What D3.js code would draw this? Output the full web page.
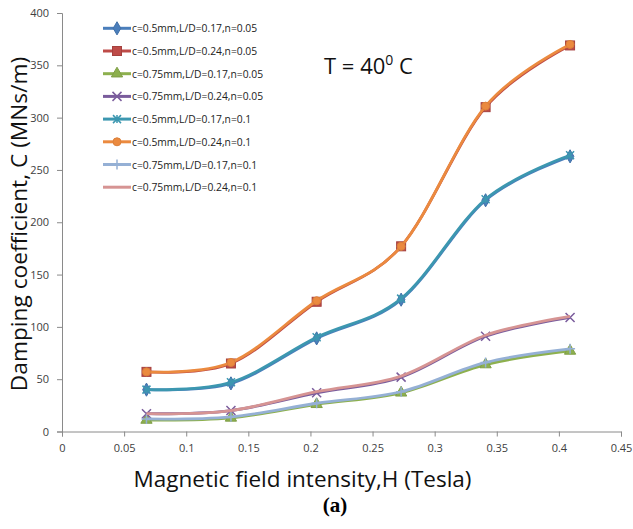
<!DOCTYPE html>
<html><head><meta charset="utf-8">
<script src="https://d3js.org/d3.v7.min.js"></script>
<style>body{margin:0;background:#fff;} text{font-family:"Open Sans","Liberation Sans",sans-serif;}</style>
</head><body><svg id="c" width="633" height="529"></svg>
<script>
const H = [0.068, 0.136, 0.205, 0.273, 0.341, 0.409];
const seriesNames = [
  "c=0.5mm,L/D=0.17,n=0.05","c=0.5mm,L/D=0.24,n=0.05","c=0.75mm,L/D=0.17,n=0.05","c=0.75mm,L/D=0.24,n=0.05",
  "c=0.5mm,L/D=0.17,n=0.1","c=0.5mm,L/D=0.24,n=0.1","c=0.75mm,L/D=0.17,n=0.1","c=0.75mm,L/D=0.24,n=0.1"];
const s1 = [40, 46, 89, 126, 221, 263];
const s2 = [57, 65, 124, 177, 310, 369];
const s3 = [11, 13, 26, 37, 64, 77];
const s4 = [17, 20, 37, 52, 91, 109];
const s5 = [40, 47, 90, 127, 222, 264];
const s6 = [57, 66, 125, 177, 311, 370];
const s7 = [12, 14, 27, 38, 66, 79];
const s8 = [17, 20, 38, 53, 92, 110];
const seriesValues = [s1,s2,s3,s4,s5,s6,s7,s8];
const colors = ["#4A7EBB","#BE4B48","#8DB04E","#7A5C9C","#3C97B0","#EB8A3F","#95B0D5","#D69493"];
const markers = ["diamond","square","triangle","x","asterisk","circle","plus","none"];
const xTicks = [0,0.05,0.1,0.15,0.2,0.25,0.3,0.35,0.4,0.45];
const yTicks = [0,50,100,150,200,250,300,350,400];

const svg = d3.select("#c");
svg.append("rect").attr("width",633).attr("height",529).attr("fill","#fff");
const x = d3.scaleLinear().domain([0,0.45]).range([62,621]);
const y = d3.scaleLinear().domain([0,400]).range([431.5,13]);

const xAxis = svg.append("g").attr("transform","translate(0,431.5)")
  .call(d3.axisBottom(x).tickValues(xTicks).tickFormat(d=>d).tickSizeOuter(0).tickSize(5).tickPadding(8));
const yAxis = svg.append("g").attr("transform","translate(62,0)")
  .call(d3.axisLeft(y).tickValues(yTicks).tickFormat(d=>d).tickSizeOuter(0).tickSize(5).tickPadding(8));
[xAxis,yAxis].forEach(a=>{
  a.select(".domain").attr("stroke","#8a8a8a");
  a.selectAll(".tick line").attr("stroke","#8a8a8a");
  a.selectAll(".tick text").attr("fill","#404040").style("font-size","11px").style("font-family","'Open Sans',sans-serif");
});

const line = d3.line().x((d,i)=>x(H[i])).y(d=>y(d)).curve(d3.curveCardinal.tension(0));

function drawMarker(g, type, cx, cy, color, scale){
  const k = scale||1;
  if(type==="diamond"){
    g.append("path").attr("d",d3.symbol(d3.symbolDiamond, 50*k)()).attr("transform",`translate(${cx},${cy})`).attr("fill",color).attr("stroke",d3.color(color).darker(0.3));
  } else if(type==="square"){
    g.append("rect").attr("x",cx-4.5*k).attr("y",cy-4.5*k).attr("width",9*k).attr("height",9*k).attr("fill",color).attr("stroke",d3.color(color).darker(0.4));
  } else if(type==="triangle"){
    g.append("path").attr("d",d3.symbol(d3.symbolTriangle, 55*k)()).attr("transform",`translate(${cx},${cy})`).attr("fill",color).attr("stroke",d3.color(color).darker(0.3));
  } else if(type==="x"){
    const r=4.5*k;
    g.append("path").attr("d",`M${cx-r},${cy-r}L${cx+r},${cy+r}M${cx-r},${cy+r}L${cx+r},${cy-r}`).attr("stroke",color).attr("stroke-width",1.5).attr("fill","none");
  } else if(type==="asterisk"){
    const r=4*k;
    g.append("path").attr("d",`M${cx-r},${cy-r}L${cx+r},${cy+r}M${cx-r},${cy+r}L${cx+r},${cy-r}M${cx},${cy-r}L${cx},${cy+r}`).attr("stroke",color).attr("stroke-width",1.5).attr("fill","none");
  } else if(type==="circle"){
    g.append("circle").attr("cx",cx).attr("cy",cy).attr("r",4*k).attr("fill",color).attr("stroke",d3.color(color).darker(0.2));
  } else if(type==="plus"){
    const r=5*k;
    g.append("path").attr("d",`M${cx-r},${cy}L${cx+r},${cy}M${cx},${cy-r}L${cx},${cy+r}`).attr("stroke",color).attr("stroke-width",1.5).attr("fill","none");
  }
}

const plot = svg.append("g");
seriesValues.forEach((vals,si)=>{
  const g = plot.append("g");
  g.append("path").attr("d",line(vals)).attr("fill","none").attr("stroke",colors[si]).attr("stroke-width",2.8).attr("stroke-linejoin","round");
  vals.forEach((v,i)=>drawMarker(g, markers[si], x(H[i]), y(v), colors[si]));
});

// legend
const leg = svg.append("g");
seriesNames.forEach((n,i)=>{
  const ly = 28.3 + i*22.7;
  leg.append("line").attr("x1",103).attr("x2",131).attr("y1",ly).attr("y2",ly).attr("stroke",colors[i]).attr("stroke-width",3);
  drawMarker(leg, markers[i], 117, ly, colors[i]);
  leg.append("text").attr("x",132).attr("y",ly+4).text(n).style("font-size","10.3px").attr("fill","#222");
});

// T label
const t = svg.append("text").attr("x",324).attr("y",73.5).style("font-size","22px").attr("fill","#111");
t.append("tspan").text("T = 40");
t.append("tspan").text("0").style("font-size","14px").attr("dy","-9");
t.append("tspan").text(" C").attr("dy","9");

// axis titles
svg.append("text").attr("x",302.5).attr("y",487).attr("text-anchor","middle").style("font-size","22.5px").attr("fill","#111")
  .text("Magnetic field intensity,H (Tesla)");
svg.append("text").attr("transform","translate(27,224) rotate(-90)").attr("text-anchor","middle").style("font-size","22.7px").attr("fill","#111")
  .text("Damping coefficient, C (MNs/m)");
svg.append("text").attr("x",335).attr("y",512).attr("text-anchor","middle").style("font-size","21px").style("font-weight","bold")
  .style("font-family","'Liberation Serif','Times New Roman',serif").attr("fill","#000").text("(a)");
</script></body></html>
